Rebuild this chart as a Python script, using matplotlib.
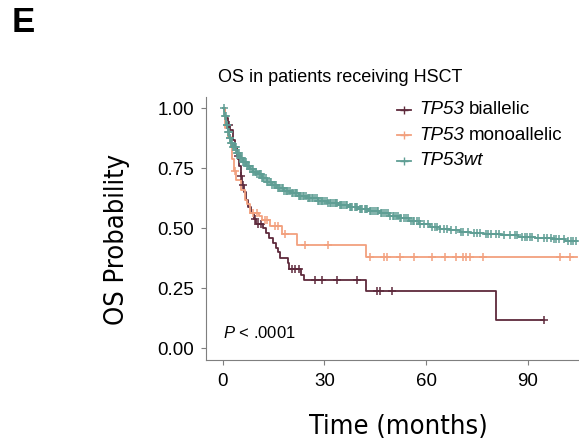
import numpy as np
import matplotlib
matplotlib.use("Agg")
import matplotlib.pyplot as plt
from matplotlib import font_manager
from matplotlib.lines import Line2D
from matplotlib.offsetbox import TextArea, HPacker, VPacker, DrawingArea, AnchoredOffsetbox

# Kaplan-Meier step points (months, survival)
bi_time = [0, 0.8, 1.5, 2.2, 3.0, 3.6, 4.2, 4.8, 5.3, 5.7, 6.2, 6.8, 7.5, 8.3, 9.3, 9.8,
           12.0, 12.8, 13.8, 14.8, 15.6, 16.3, 17.0, 19.3, 19.6, 23.2, 24.0, 42.2, 80.7, 94.6]
bi_surv = [1.0, 0.96, 0.93, 0.91, 0.87, 0.84, 0.80, 0.76, 0.72, 0.68, 0.65, 0.62, 0.59, 0.565,
           0.54, 0.52, 0.50, 0.48, 0.46, 0.44, 0.42, 0.40, 0.376, 0.355, 0.33, 0.307, 0.285,
           0.238, 0.119, 0.119]
bi_cens = [2.0, 4.5, 5.5, 6.0, 9.5, 10.5, 11.2, 20.4, 21.4, 22.4, 27.3, 29.3, 33.7, 39.6,
           45.5, 46.5, 50.0, 94.6]

mono_time = [0, 0.8, 1.5, 2.4, 2.8, 3.2, 4.0, 5.5, 6.5, 7.3, 8.2, 10.8, 11.6, 14.0, 17.4,
             21.8, 42.2, 104.5]
mono_surv = [1.0, 0.92, 0.88, 0.84, 0.79, 0.74, 0.70, 0.66, 0.62, 0.60, 0.565, 0.55, 0.535,
             0.51, 0.478, 0.431, 0.382, 0.382]
mono_cens = [3.5, 9.0, 10.0, 12.5, 13.2, 15.5, 16.2, 18.5, 24.4, 31.2, 43.5, 47.5, 48.4,
             52.3, 56.3, 61.7, 65.6, 68.9, 71.0, 71.8, 72.8, 76.9, 99.5, 102.4]

wt_time = [0, 0.5, 1.0, 1.5, 2.0, 2.5, 3.0, 4.0, 5.0, 6.0, 7.0, 8.0, 9.0, 10.0, 11.5, 13.0,
           14.5, 16.0, 18.0, 20.0, 22.5, 25.0, 28.0, 31.0, 34.0, 37.0, 40.0, 43.0, 46.0, 49.0,
           52.0, 55.0, 58.0, 61.0, 64.0, 67.0, 70.0, 73.0, 77.0, 82.0, 87.0, 92.0, 97.0, 101.0,
           104.5]
wt_surv = [1.0, 0.97, 0.93, 0.90, 0.875, 0.855, 0.84, 0.815, 0.795, 0.777, 0.762, 0.748,
           0.737, 0.725, 0.71, 0.695, 0.682, 0.668, 0.656, 0.646, 0.636, 0.627, 0.616, 0.605,
           0.597, 0.59, 0.582, 0.573, 0.563, 0.553, 0.543, 0.53, 0.518, 0.507, 0.499, 0.492,
           0.486, 0.481, 0.477, 0.471, 0.465, 0.46, 0.455, 0.448, 0.448]
wt_cens = [0.3, 0.6, 0.9, 1.2, 1.4, 1.6, 1.9, 2.1, 2.3, 2.5, 2.7, 3.1, 3.3, 3.5, 3.9, 4.2,
           4.4, 4.8, 5.1, 5.3, 5.8, 6.0, 6.2, 6.7, 6.9, 7.1, 7.6, 7.9, 8.1, 8.6, 8.8, 9.0, 9.5,
           9.8, 10.1, 10.6, 10.9, 11.2, 11.7, 12.0, 12.3, 12.8, 13.1, 13.4, 14.0, 14.2, 14.5,
           15.1, 15.4, 15.7, 16.3, 16.5, 16.8, 17.4, 17.8, 18.1, 18.7, 19.0, 19.3, 19.9, 20.3,
           20.6, 21.2, 21.5, 21.9, 22.5, 22.8, 23.2, 23.8, 24.1, 24.5, 25.1, 25.5, 25.8, 26.4,
           26.7, 27.1, 27.7, 28.0, 28.4, 29.0, 29.3, 29.7, 30.3, 30.7, 31.0, 31.6, 32.0, 32.4,
           33.1, 33.5, 33.8, 34.5, 34.8, 35.2, 35.9, 36.3, 36.7, 37.4, 37.8, 38.1, 38.9, 39.2,
           39.6, 40.4, 40.7, 41.1, 41.9, 42.2, 42.6, 43.4, 43.8, 44.2, 45.0, 45.4, 45.8, 46.7,
           47.1, 47.5, 48.3, 48.8, 49.2, 50.1, 50.5, 51.0, 51.8, 52.3, 52.7, 53.6, 54.1, 54.6,
           55.5, 56.0, 56.4, 57.4, 57.8, 58.3, 59.3, 60.4, 61.6, 62.5, 63.2, 64.0, 65.2, 66.0,
           67.4, 68.9, 70.3, 71.0, 72.4, 74.0, 75.1, 75.8, 77.5, 78.3, 79.0, 80.6, 81.5, 83.0,
           84.8, 86.1, 86.9, 88.2, 89.0, 89.7, 90.5, 91.3, 93.0, 94.7, 95.5, 96.8, 97.6, 98.3,
           99.1, 100.5, 101.8, 102.6, 103.4, 104.3]

# legend text: italic gene part + plain part
label_italic = ["TP53", "TP53", "TP53wt"]
label_plain = ["biallelic", "monoallelic", ""]
colors = ["#5e2a3c", "#f2a07e", "#5f9e94"]
x_ticks = [0, 30, 60, 90]
y_ticks = [0.00, 0.25, 0.50, 0.75, 1.00]

plt.rcParams["font.family"] = ["Liberation Sans", "DejaVu Sans"]
plt.rcParams["mathtext.fontset"] = "custom"
plt.rcParams["mathtext.it"] = "Liberation Sans:italic"
plt.rcParams["mathtext.rm"] = "Liberation Sans"

# condensed face for the big axis titles, if one is installed
cond_path = None
for key in ["LiberationSansNarrow-Regular", "DejaVuSansCondensed.ttf", "RobotoCondensed-Regular"]:
    hits = [f.fname for f in font_manager.fontManager.ttflist if key in f.fname]
    if not hits:
        hits = [p for p in font_manager.findSystemFonts() if key in p]
    if hits:
        cond_path = hits[0]
        break
if cond_path:
    lab_font = font_manager.FontProperties(fname=cond_path, size=19.5)
else:
    lab_font = font_manager.FontProperties(family="Liberation Sans", size=18)

W, H = 579, 446
fig = plt.figure(figsize=(W / 100, H / 100), dpi=100)
ax = fig.add_axes([205.7 / W, 1 - 360.3 / H, (578.8 - 205.7) / W, (360.3 - 96.5) / H])


def surv_at(times, survs, t):
    idx = np.searchsorted(times, t, side="right") - 1
    return np.array(survs)[idx]


series = [(bi_time, bi_surv, bi_cens), (mono_time, mono_surv, mono_cens),
          (wt_time, wt_surv, wt_cens)]
for (t, s, c), col in zip(series, colors):
    ax.step(t, s, where="post", color=col, lw=1.3, zorder=2)
    ax.plot(c, surv_at(t, s, c), ls="none", marker="+", ms=6, mew=1.1, color=col, zorder=3)

ax.set_xlim(-5, 105)
ax.set_ylim(-0.05, 1.05)
ax.set_xticks(x_ticks)
ax.set_yticks(y_ticks)
ax.set_yticklabels([f"{v:.2f}" for v in y_ticks])
for side in ["top", "right"]:
    ax.spines[side].set_visible(False)
for side in ["left", "bottom"]:
    ax.spines[side].set_color("#7f7f7f")
    ax.spines[side].set_linewidth(0.8)
ax.tick_params(colors="#7f7f7f", labelcolor="black", length=3.5, width=0.8, labelsize=13.5)
ax.tick_params(axis="y", pad=5)
ax.tick_params(axis="x", pad=6)

ax.text(0.2, 0.064, r"$\mathit{P}$ < .0001", fontsize=12, va="center", ha="left")

# legend built from pieces so the gene name (digits included) is italic
rows = []
for col, it, pl in zip(colors, label_italic, label_plain):
    da = DrawingArea(10, 10, 0, 0)
    da.add_artist(Line2D([0, 10], [5, 5], color=col, lw=1.3))
    da.add_artist(Line2D([5], [5], marker="+", ms=6, mew=1.0, color=col))
    parts = [TextArea(it, textprops=dict(style="italic", fontsize=13.5))]
    if pl:
        parts.append(TextArea(pl, textprops=dict(fontsize=13.5)))
    txt = HPacker(children=parts, align="baseline", pad=0, sep=3.5)
    rows.append(HPacker(children=[da, txt], align="center", pad=0, sep=6))
leg = AnchoredOffsetbox(loc="upper left", child=VPacker(children=rows, align="left", pad=0, sep=6.2),
                        bbox_to_anchor=(397 / W, 1 - 101 / H), bbox_transform=fig.transFigure,
                        frameon=False, pad=0, borderpad=0)
fig.add_artist(leg)

fig.text(12 / W, 1 - 23 / H, "E", fontsize=25, fontweight="bold", va="center", ha="left")
fig.text(340 / W, 1 - 78 / H, "OS in patients receiving HSCT", fontsize=13,
         va="center", ha="center")
fig.text(117 / W, 1 - 239 / H, "OS Probability", fontproperties=lab_font,
         rotation=90, va="center", ha="center")
fig.text(398 / W, 1 - 427 / H, "Time (months)", fontproperties=lab_font,
         va="center", ha="center")

fig.savefig("out.png", dpi=100)
